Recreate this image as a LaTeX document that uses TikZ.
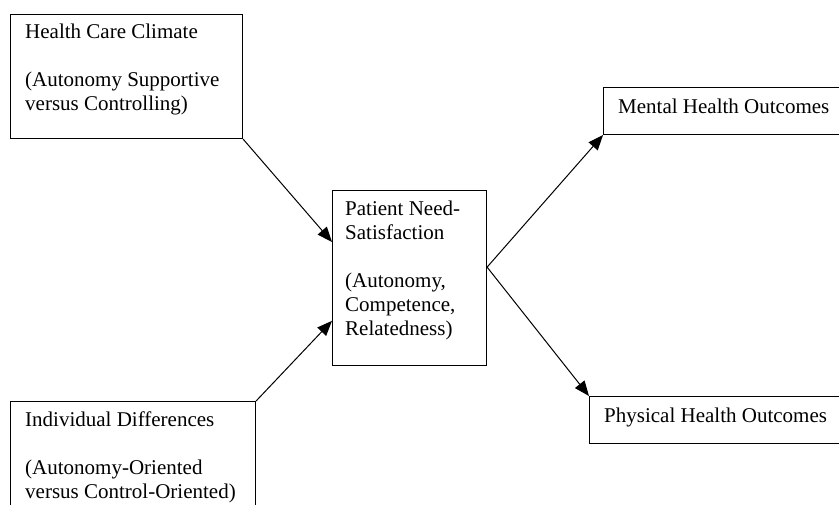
\documentclass[tikz,border=0pt]{standalone}
\usepackage{fontspec}
\setmainfont{Liberation Serif}
\usetikzlibrary{arrows.meta, calc}

\begin{document}
\begin{tikzpicture}[x=1pt, y=-1pt,
  box/.style={draw, line width=1.1pt, anchor=north west, inner sep=0pt},
  boxtext/.style={anchor=north west, inner sep=0pt, align=left,
                  font=\fontsize{21}{24}\selectfont},
  link/.style={-{Triangle[length=15pt,width=12pt]}, line width=1pt}]

\useasboundingbox (0,0) rectangle (839,505);
\clip (0,0) rectangle (839,505);

% --- Left column: what the patient brings in ---
\node[box, minimum width=232pt, minimum height=124pt] (climate) at (10,14) {};
\node[boxtext] (climatetext) at ([xshift=15pt,yshift=-10pt]climate.north west)
     {Health Care Climate\\[24pt](Autonomy Supportive\\versus Controlling)};

\node[box, minimum width=245pt, minimum height=130pt] (differences) at (10,401) {};
\node[boxtext] (differencestext) at ([xshift=15pt,yshift=-11pt]differences.north west)
     {Individual Differences\\[24pt](Autonomy-Oriented\\versus Control-Oriented)};

% --- Middle: need satisfaction ---
\node[box, minimum width=154pt, minimum height=175pt] (need) at (332,190) {};
\node[boxtext] (needtext) at ([xshift=13pt,yshift=-11pt]need.north west)
     {Patient Need-\\Satisfaction\\[24pt](Autonomy,\\Competence,\\Relatedness)};

% --- Right column: outcomes ---
\node[box, minimum width=260pt, minimum height=47pt] (mental) at (603,87) {};
\node[boxtext] (mentaltext) at ([xshift=15pt,yshift=-12pt]mental.north west)
     {Mental Health Outcomes};

\node[box, minimum width=270pt, minimum height=47pt] (physical) at (589,396) {};
\node[boxtext] (physicaltext) at ([xshift=15pt,yshift=-12pt]physical.north west)
     {Physical Health Outcomes};

% Arrows into and out of the middle box
\coordinate (needin1) at ($(need.north west)!0.295!(need.south west)$);
\coordinate (needin2) at ($(need.north west)!0.743!(need.south west)$);
\coordinate (needout) at ($(need.north east)!0.438!(need.south east)$);

\draw[link] (climate.south east) -- (needin1);
\draw[link] (differences.north east) -- (needin2);
\draw[link] (needout) -- (mental.south west);
\draw[link] (needout) -- (physical.north west);

\end{tikzpicture}
\end{document}
